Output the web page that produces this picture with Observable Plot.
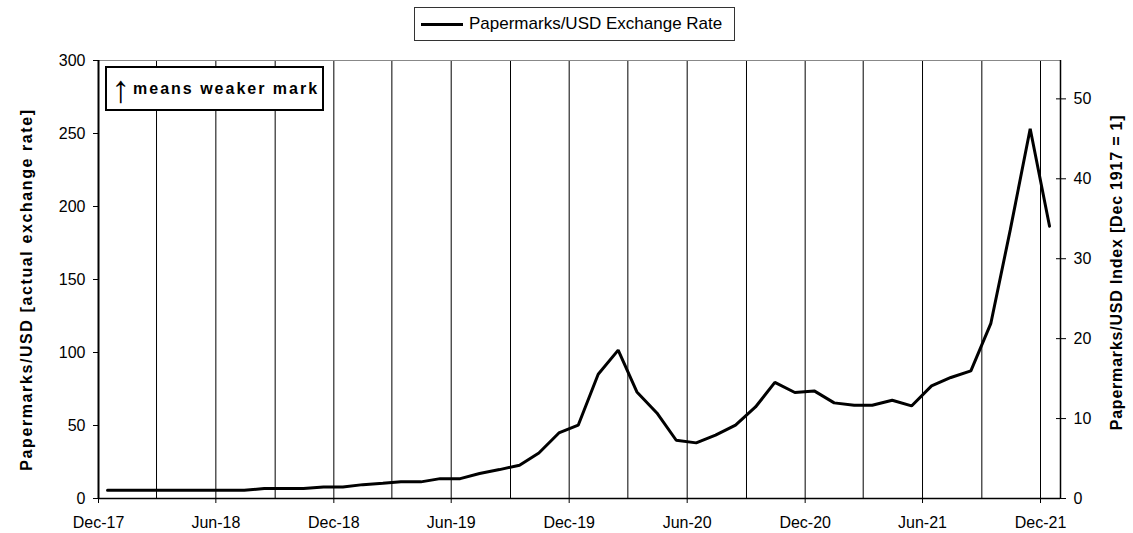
<!DOCTYPE html>
<html>
<head>
<meta charset="utf-8">
<script src="https://cdn.jsdelivr.net/npm/d3@7"></script>
<script src="https://cdn.jsdelivr.net/npm/@observablehq/plot@0.6"></script>
<style>
  html, body { margin: 0; padding: 0; background: #fff; }
  body { width: 1133px; height: 533px; overflow: hidden; font-family: "Liberation Sans", Arial, sans-serif; }
  #wrap { position: relative; width: 1133px; height: 533px; }
  #legendRow { position: relative; height: 48px; }
  #legend { position: absolute; left: 414px; top: 7px; width: 319px; height: 32px; border: 1px solid #333;
            display: flex; align-items: center; font-size: 17px; color: #000; white-space: nowrap; }
  #legend .swatch { display: inline-block; width: 42px; height: 3px; background: #000; margin-left: 6px; margin-right: 6px; }
  #note { position: absolute; left: 105px; top: 66px; width: 215px; height: 41px; border: 2px solid #000; background: #fff;
          display: flex; align-items: center; font-weight: bold; font-size: 16px; letter-spacing: 2px; color: #000; white-space: nowrap; overflow: hidden; }
  #note .arrow { font-family: "Liberation Sans", Arial, sans-serif; font-weight: normal; font-size: 38px; color: #000;
                 margin-left: 4px; margin-right: 3px; letter-spacing: 0; line-height: 1; }
  svg { display: block; }
</style>
</head>
<body>
<div id="wrap">
  <div id="legendRow"><div id="legend"><span class="swatch"></span><span>Papermarks/USD Exchange Rate</span></div></div>
  <div id="chart"></div>
  <div id="note"><span class="arrow">↑</span><span>means weaker mark</span></div>
</div>
<script>
// ---- data ----
const months = [
  "1917-12",
  "1918-01","1918-02","1918-03","1918-04","1918-05","1918-06","1918-07","1918-08","1918-09","1918-10","1918-11","1918-12",
  "1919-01","1919-02","1919-03","1919-04","1919-05","1919-06","1919-07","1919-08","1919-09","1919-10","1919-11","1919-12",
  "1920-01","1920-02","1920-03","1920-04","1920-05","1920-06","1920-07","1920-08","1920-09","1920-10","1920-11","1920-12",
  "1921-01","1921-02","1921-03","1921-04","1921-05","1921-06","1921-07","1921-08","1921-09","1921-10","1921-11","1921-12"
];
const rates = [
  5.7,
  5.7, 5.7, 5.7, 5.7, 5.7, 5.7, 5.7, 6.8, 6.8, 6.8, 7.9, 7.9,
  9.5, 10.4, 11.4, 11.4, 13.6, 13.6, 17.1, 19.8, 22.8, 31.2, 44.9, 50.2,
  85.1, 101.6, 73.0, 58.6, 39.9, 38.1, 43.4, 50.2, 62.7, 79.5, 72.6, 73.7,
  65.5, 63.9, 63.9, 67.3, 63.4, 77.1, 82.9, 87.4, 120.0, 183.8, 253.2, 186.5
];
const seriesName = "Papermarks/USD Exchange Rate";
const leftTicks = [0, 50, 100, 150, 200, 250, 300];
const indexTicks = [0, 10, 20, 30, 40, 50];
const indexMax = 54.8;           // right axis top (index, Dec 1917 = 1)
const leftMax = 300;
const leftTitle = "Papermarks/USD [actual exchange rate]";
const rightTitle = "Papermarks/USD Index [Dec 1917 = 1]";

// ---- build ----
const parseMonth = s => { const [y, m] = s.split("-").map(Number); return new Date(Date.UTC(y, m - 1, 15)); };
const data = months.map((m, i) => ({date: parseMonth(m), rate: rates[i]}));
const x0 = new Date(Date.UTC(1917, 11, 1));
const x1 = new Date(Date.UTC(1922, 0, 1));
const labelTicks = d3.utcMonths(x0, new Date(Date.UTC(1921, 11, 2)), 6);
const gridTicks = d3.utcMonths(x0, new Date(Date.UTC(1921, 11, 2)), 3);
const base = leftMax / indexMax;
const fmt = d3.utcFormat("%b-%y");

const chart = Plot.plot({
  width: 1133,
  height: 485,
  marginTop: 12,
  marginBottom: 35,
  marginLeft: 98,
  marginRight: 73,
  style: {fontFamily: "'Liberation Sans', Arial, sans-serif", fontSize: "16px", color: "#000", background: "#fff", overflow: "visible"},
  x: {type: "utc", domain: [x0, x1]},
  y: {domain: [0, leftMax]},
  marks: [
    Plot.ruleX(gridTicks, {stroke: "#000", strokeWidth: 1}),
    Plot.ruleY([leftMax], {stroke: "#888", strokeWidth: 1}),
    Plot.ruleX([x1], {stroke: "#000", strokeWidth: 1.5}),
    Plot.ruleY([0], {stroke: "#000", strokeWidth: 1.5}),
    Plot.ruleX([x0], {stroke: "#000", strokeWidth: 2}),
    Plot.axisX({ticks: labelTicks, tickFormat: fmt, tickSize: 5, tickPadding: 13, label: null, fontSize: 16, letterSpacing: 0.8}),
    Plot.axisY({anchor: "left", ticks: leftTicks, tickSize: 5, tickPadding: 8, fontSize: 16,
      label: leftTitle, labelAnchor: "center", labelArrow: "none", labelOffset: 78}),
    Plot.axisY({anchor: "right", ticks: indexTicks.map(v => v * base), tickSize: 10, dx: -5, tickFormat: () => "", label: null}),
    Plot.axisY({anchor: "right", ticks: indexTicks.map(v => v * base), tickSize: 0, tickPadding: 13, fontSize: 16,
      tickFormat: v => String(Math.round(v / base)),
      label: rightTitle, labelAnchor: "center", labelArrow: "none", labelOffset: 61}),
    Plot.line(data, {x: "date", y: "rate", stroke: "#000", strokeWidth: 3, strokeLinejoin: "miter", title: () => seriesName})
  ]
});
document.getElementById("chart").appendChild(chart);
// bold axis titles, nudged along their length as in the original
chart.querySelectorAll("g[aria-label='y-axis label'] text").forEach(t => {
  t.style.fontWeight = "bold";
  t.style.fontSize = "16px";
  if (t.textContent === leftTitle) { t.style.letterSpacing = "1.6px"; t.setAttribute("dx", "-10"); }
  else { t.style.letterSpacing = "0.8px"; t.setAttribute("dx", "7"); }
});
</script>
</body>
</html>
